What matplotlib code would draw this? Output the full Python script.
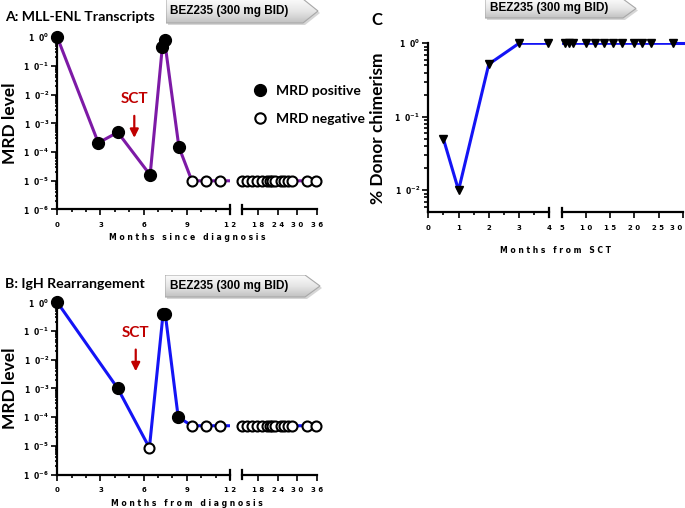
import numpy as np
import matplotlib
matplotlib.use("Agg")
import matplotlib.pyplot as plt
from matplotlib.patches import Polygon
from matplotlib.lines import Line2D
from matplotlib.colors import LinearSegmentedColormap
from matplotlib.ticker import FixedLocator, NullFormatter

W, H = 685, 508

# ---- data ----
# A: MLL-ENL transcripts, 1 = MRD positive, 0 = MRD negative
a_months = [0, 2.85, 4.2, 6.45, 7.3, 7.45, 8.45, 9.35, 10.35, 11.3,
            13.0, 14.5, 16.0, 17.5, 19.0, 20.5, 21.5, 22.3, 23.0,
            25.0, 26.0, 27.0, 28.5, 33.0, 35.8]
a_mrd = [1.0, 2.1e-4, 4.9e-4, 1.6e-5, 0.47, 0.8, 1.5e-4, 1e-5, 1e-5, 1e-5,
         1e-5, 1e-5, 1e-5, 1e-5, 1e-5, 1e-5, 1e-5, 1e-5, 1e-5,
         1e-5, 1e-5, 1e-5, 1e-5, 1e-5, 1e-5]
a_positive = [1, 1, 1, 1, 1, 1, 1, 0, 0, 0,
              0, 0, 0, 0, 0, 0, 0, 0, 0,
              0, 0, 0, 0, 0, 0]

# B: IgH rearrangement
b_months = [0, 4.2, 6.4, 7.35, 7.5, 8.4, 9.35, 10.35, 11.3,
            13.0, 14.5, 16.0, 17.5, 19.0, 20.5, 21.5, 22.3, 23.0,
            25.0, 26.0, 27.0, 28.5, 33.0, 35.8]
b_mrd = [1.0, 1e-3, 8.5e-6, 0.4, 0.4, 1e-4, 5e-5, 5e-5, 5e-5,
         5e-5, 5e-5, 5e-5, 5e-5, 5e-5, 5e-5, 5e-5, 5e-5, 5e-5,
         5e-5, 5e-5, 5e-5, 5e-5, 5e-5, 5e-5]
b_positive = [1, 1, 0, 1, 1, 1, 0, 0, 0,
              0, 0, 0, 0, 0, 0, 0, 0, 0,
              0, 0, 0, 0, 0, 0]

# C: donor chimerism after SCT
c_months = [0.5, 1.0, 2.0, 3.0, 3.95, 5.7, 6.6, 7.4, 10.0, 11.9, 13.7,
            15.7, 17.5, 20.0, 21.6, 23.4, 28.0]
c_chim = [0.05, 0.01, 0.52, 1.0, 1.0, 1.0, 1.0, 1.0, 1.0, 1.0, 1.0,
          1.0, 1.0, 1.0, 1.0, 1.0, 1.0]

ab_left_ticks = [0, 3, 6, 9, 12]
ab_right_ticks = [18, 24, 30, 36]
c_left_ticks = [0, 1, 2, 3, 4]
c_right_ticks = [5, 10, 15, 20, 25, 30]

PURPLE = "#7d1aa6"
BLUE = "#1414f5"
RED = "#c00000"
TITLE_FONT = "Lato"

fig = plt.figure(figsize=(W / 100, H / 100), dpi=100)


def pax(x0, x1, ytop, ybot):
    return fig.add_axes([x0 / W, 1 - ybot / H, (x1 - x0) / W, (ybot - ytop) / H])


def spaced(s):
    return " ".join(s)


def ylab(e):
    return r"$\mathbf{1\ \ 0}^{\mathbf{%d}}$" % e


def broken(xl, xr, ytop, ybot, xl_lim, xr_lim, ylim, exps, minor_len):
    axl = pax(xl[0], xl[1], ytop, ybot)
    axr = pax(xr[0], xr[1], ytop, ybot)
    for ax, lim in ((axl, xl_lim), (axr, xr_lim)):
        ax.set_yscale("log")
        ax.set_ylim(ylim)
        ax.set_xlim(lim)
        ax.patch.set_visible(False)
        ax.spines["top"].set_visible(False)
        ax.spines["right"].set_visible(False)
        ax.spines["bottom"].set_linewidth(1.6)
        ax.spines["left"].set_linewidth(1.6)
        ax.tick_params(which="both", direction="out", width=1.2, labelsize=5, pad=5)
        ax.tick_params(which="major", length=4)
        ax.tick_params(which="minor", length=2)
        ax.tick_params(axis="y", which="minor", length=minor_len)
    axl.yaxis.set_major_locator(FixedLocator([10.0 ** e for e in exps]))
    axl.set_yticklabels([ylab(e) for e in exps])
    axl.tick_params(axis="y", pad=2, labelsize=5.5)
    axr.spines["left"].set_visible(False)
    axr.tick_params(axis="y", which="both", left=False, labelleft=False)
    for ax, xx in ((axl, 1), (axr, 0)):
        ax.plot([xx, xx], [-0.025, 0.025], transform=ax.transAxes, color="k",
                lw=1.6, clip_on=False)
    return axl, axr


def set_xt(ax, ticks, minor=None):
    ax.set_xticks(ticks)
    ax.set_xticklabels([spaced(str(t)) for t in ticks], fontsize=5, fontweight="bold")
    if minor is not None:
        ax.xaxis.set_minor_locator(FixedLocator(minor))
        ax.xaxis.set_minor_formatter(NullFormatter())
    else:
        ax.xaxis.set_minor_locator(FixedLocator([]))


def mrd_panel(axes, months, vals, pos, color):
    months = np.array(months)
    vals = np.array(vals)
    pos = np.array(pos, dtype=bool)
    for ax in axes:
        lo, hi = ax.get_xlim()
        ax.plot(months, vals, color=color, lw=2.2, zorder=2)
        m = (months >= lo - 0.01) & (months <= hi + 0.01)
        ax.plot(months[m & pos], vals[m & pos], "o", color="k", ms=8.5,
                clip_on=False, zorder=3)
        ax.plot(months[m & ~pos], vals[m & ~pos], "o", mfc="white", mec="k",
                mew=1.5, ms=7.2, clip_on=False, zorder=3)


def banner(x0, x1, ytop, ybot, tip, tx):
    ax = fig.add_axes([x0 / W, 1 - (ybot + 3) / H, (x1 - x0 + 3) / W, (ybot + 3 - ytop) / H])
    ax.axis("off")
    ym = (ytop + ybot) / 2
    pts = [(x0, ytop), (x1 - tip, ytop), (x1, ym), (x1 - tip, ybot), (x0, ybot)]
    shadow = Polygon([(x + 2, y + 2) for x, y in pts], closed=True, fc="#d6d6d6",
                     ec="none", zorder=0)
    ax.add_patch(shadow)
    poly = Polygon(pts, closed=True, fc="none", ec="#a8a8a8", lw=0.8, zorder=2)
    ax.add_patch(poly)
    cmap = LinearSegmentedColormap.from_list("g", ["#fbfbfb", "#e6e6e6", "#c2c2c2"])
    grad = np.linspace(0, 1, 64).reshape(-1, 1)
    im = ax.imshow(grad, cmap=cmap, extent=(x0, x1, ybot, ytop), aspect="auto", zorder=1)
    im.set_clip_path(poly)
    ax.set_xlim(x0, x1 + 3)
    ax.set_ylim(ybot + 3, ytop)
    ax.text(tx, ym, "BEZ235 (300 mg BID)", ha="center", va="center", fontsize=8.5,
            fontweight="bold", family="Liberation Sans", zorder=3)


def sct(ax, x, ytext, ytop, ybot):
    ax.text(x, ytext, "SCT", color=RED, ha="center", va="center", fontsize=11,
            fontweight="bold", family=TITLE_FONT)
    ax.annotate("", xy=(x, ybot), xytext=(x, ytop),
                arrowprops=dict(arrowstyle="-|>,head_length=0.5,head_width=0.25",
                                color=RED, lw=1.6))


# ---- panel A ----
aL, aR = broken((57.3, 230), (242.3, 316.7), 37.3, 209.5, (0, 12), (13, 36),
                (1e-6, 1), range(0, -7, -1), 1.5)
set_xt(aL, ab_left_ticks, range(0, 13))
set_xt(aR, ab_right_ticks)
mrd_panel((aL, aR), a_months, a_mrd, a_positive, PURPLE)
sct(aL, 5.35, 10 ** -2.15, 10 ** -2.64, 10 ** -3.6)
aL.set_ylabel("MRD level", fontsize=12.5, fontweight="bold", family=TITLE_FONT, labelpad=4)
handles = [Line2D([], [], marker="o", ls="", color="k", ms=8.5),
           Line2D([], [], marker="o", ls="", mfc="white", mec="k", mew=1.5, ms=7.5)]
fig.legend(handles, ["MRD positive", "MRD negative"], loc="center left",
           bbox_to_anchor=(253 / W, 1 - 105 / H), frameon=False, borderpad=0,
           borderaxespad=0, handlelength=1.0, handletextpad=0.65, labelspacing=1.2,
           prop=dict(family=TITLE_FONT, weight="bold", size=10))
fig.text(187 / W, 1 - 238 / H, "M o n t h s   s i n c e   d i a g n o s i s",
         ha="center", va="center", fontsize=5.5, fontweight="bold")
fig.text(5 / W, 1 - 17 / H, "A: MLL-ENL Transcripts", ha="left", va="center",
         fontsize=10.2, fontweight="bold", family=TITLE_FONT)
banner(166, 318, -1, 23, 15, 229)

# ---- panel B ----
bL, bR = broken((57.3, 230), (242.3, 316.7), 302.3, 474.5, (0, 12), (13, 36),
                (1e-6, 1), range(0, -7, -1), 1.5)
set_xt(bL, ab_left_ticks, range(0, 13))
set_xt(bR, ab_right_ticks)
mrd_panel((bL, bR), b_months, b_mrd, b_positive, BLUE)
sct(bL, 5.45, 10 ** -1.08, 10 ** -1.55, 10 ** -2.5)
bL.set_ylabel("MRD level", fontsize=12.5, fontweight="bold", family=TITLE_FONT, labelpad=4)
fig.text(187 / W, 1 - 503 / H, "M o n t h s   f r o m   d i a g n o s i s",
         ha="center", va="center", fontsize=5.5, fontweight="bold")
fig.text(5 / W, 1 - 284 / H, "B: IgH Rearrangement", ha="left", va="center",
         fontsize=10.2, fontweight="bold", family=TITLE_FONT)
banner(165, 320, 275, 297, 15, 229)

# ---- panel C ----
cL, cR = broken((428.3, 549.3), (561.7, 682.7), 43.3, 212.3, (0, 4), (5, 30),
                (10 ** -2.3, 1), range(0, -3, -1), 3)
set_xt(cL, c_left_ticks, np.arange(0, 4.5, 0.5))
set_xt(cR, c_right_ticks)
cR.get_xticklabels()[-1].set_horizontalalignment("right")
for ax in (cL, cR):
    ax.plot(c_months, c_chim, color=BLUE, lw=2.2, zorder=2)
    lo, hi = ax.get_xlim()
    m = (np.array(c_months) >= lo) & (np.array(c_months) <= hi)
    ax.plot(np.array(c_months)[m], np.array(c_chim)[m], "v", color="k", ms=6,
            clip_on=False, zorder=3)
cR.plot([c_months[-1], cR.get_xlim()[1]], [c_chim[-1], c_chim[-1]], color=BLUE,
        lw=2.2, zorder=2, clip_on=False)
cL.set_ylabel("% Donor chimerism", fontsize=12.5, fontweight="bold", family=TITLE_FONT,
              labelpad=6)
fig.text(555 / W, 1 - 250.5 / H, "M o n t h s   f r o m   S C T",
         ha="center", va="center", fontsize=5.5, fontweight="bold")
fig.text(377 / W, 1 - 20 / H, "C", ha="center", va="center", fontsize=12,
         fontweight="bold", family=TITLE_FONT)
banner(485, 636, -1, 18, 13, 549)

fig.savefig("out.png", dpi=100)
